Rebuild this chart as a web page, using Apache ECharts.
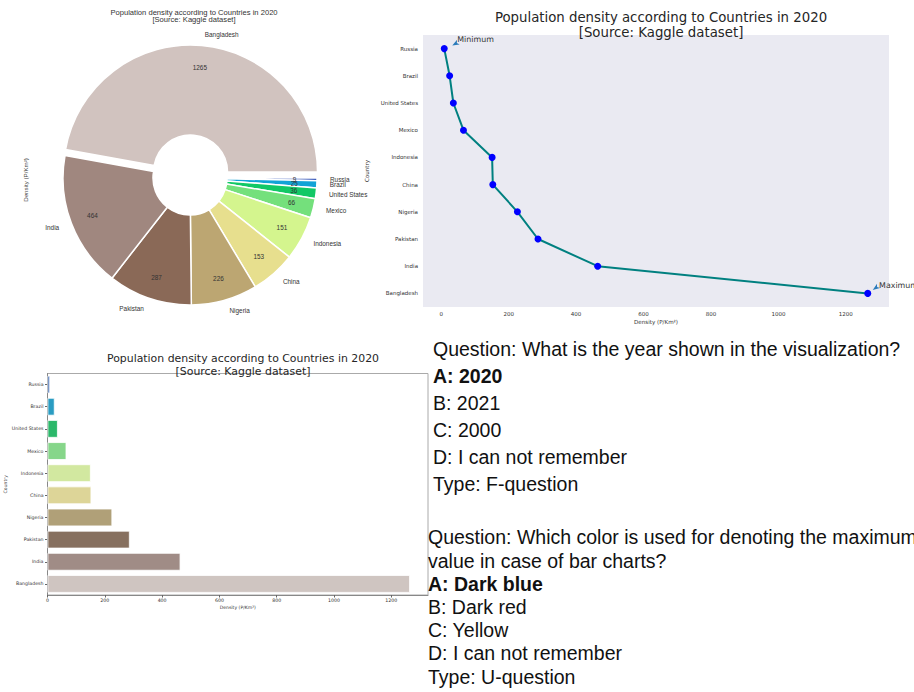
<!DOCTYPE html>
<html>
<head>
<meta charset="utf-8">
<script src="https://cdn.jsdelivr.net/npm/echarts@6/dist/echarts.min.js"></script>
<style>
  html, body { margin: 0; padding: 0; background: #fff; }
  #main { width: 914px; height: 692px; }
</style>
</head>
<body>
<div id="main"></div>
<script>
  // countries, ordered from lowest to highest density
  var countries = ['Russia', 'Brazil', 'United States', 'Mexico', 'Indonesia', 'China', 'Nigeria', 'Pakistan', 'India', 'Bangladesh'];
  var density = [9, 25, 36, 66, 151, 153, 226, 287, 464, 1265];

  var pieColors = ['#3152b8', '#12a3d6', '#12c866', '#74e07c', '#d4f58e', '#e7df8e', '#bca672', '#8a6957', '#a0877f', '#d1c3bf'];
  var barColors = ['#3a66b0', '#2a9cc2', '#2bb86a', '#86d68a', '#d2e8a0', '#ddd598', '#b0a078', '#87705f', '#a08c86', '#cfc5c1'];

  var titleText = 'Population density according to Countries in 2020\n[Source: Kaggle dataset]';
  var xName = 'Density (P/Km²)';

  // question panel text
  var question1 = ['Question: What is the year shown in the visualization?', 'A: 2020', 'B: 2021', 'C: 2000', 'D: I can not remember', 'Type: F-question'];
  var question2 = ['Question: Which color is used for denoting the maximum', 'value in case of bar charts?', 'A: Dark blue', 'B: Dark red', 'C: Yellow', 'D: I can not remember', 'Type: U-question'];
  var q1Y = [349, 376, 403, 430, 457, 484];
  var q2Y = [537, 561, 584, 607, 630, 653, 677];
  var q1Bold = [false, true, false, false, false, false];
  var q2Bold = [false, false, true, false, false, false, false];

  var myChart = echarts.init(document.getElementById('main'), null, {renderer: 'svg'});

  var dejavu = 'DejaVu Sans';
  var arial = 'Liberation Sans';

  function plain(v) {
    return String(v);
  }

  function qText(list, ys, bolds, x) {
    return list.map(function (t, i) {
      return {
        type: 'text',
        style: {
          text: t, x: x, y: ys[i],
          font: (bolds[i] ? 'bold ' : '') + '19.5px "Liberation Sans"',
          fill: '#111',
          textVerticalAlign: 'middle', verticalAlign: 'middle'
        }
      };
    });
  }

  var graphics = qText(question1, q1Y, q1Bold, 433).concat(qText(question2, q2Y, q2Bold, 428));
  // pie y label
  graphics.push({
    type: 'text',
    x: 25, y: 180,
    rotation: Math.PI / 2,
    style: {
      text: xName, font: '6.2px "Liberation Sans"', fill: '#444',
      textAlign: 'center', align: 'center', textVerticalAlign: 'middle', verticalAlign: 'middle'
    }
  });

  var pieData = countries.map(function (c, i) {
    return {name: c, value: density[i], selected: c === 'Bangladesh', itemStyle: {color: pieColors[i]}};
  });

  myChart.setOption({
    animation: false,
    title: [
      {
        text: titleText, left: 189, top: 3.5, textAlign: 'center',
        textStyle: {fontSize: 7.6, fontFamily: arial, fontWeight: 'normal', color: '#333', lineHeight: 7.6}
      },
      {
        text: titleText, left: 656, top: 4.5, textAlign: 'center',
        textStyle: {fontSize: 13.3, fontFamily: dejavu, fontWeight: 'normal', color: '#262626', lineHeight: 15}
      },
      {
        text: titleText, left: 238, top: 347.5, textAlign: 'center',
        textStyle: {fontSize: 10.9, fontFamily: dejavu, fontWeight: 'normal', color: '#262626', lineHeight: 12.7}
      }
    ],
    graphic: graphics,
    grid: [
      {left: 423, top: 35, width: 466, height: 272, show: true, backgroundColor: '#eaeaf2', borderWidth: 0},
      {left: 47.5, top: 373.5, width: 380.5, height: 221.5, show: true, backgroundColor: 'transparent', borderColor: '#aaa', borderWidth: 1}
    ],
    xAxis: [
      {
        gridIndex: 0, type: 'value', min: -54, max: 1328, splitNumber: 7,
        axisLine: {show: false}, axisTick: {show: false}, splitLine: {show: false},
        axisLabel: {fontSize: 5.5, fontFamily: dejavu, color: '#333', margin: 4, showMinLabel: false, showMaxLabel: false, formatter: plain},
        name: xName, nameLocation: 'middle', nameGap: 12,
        nameTextStyle: {fontSize: 5.6, fontFamily: dejavu, color: '#333'}
      },
      {
        gridIndex: 1, type: 'value', min: 0, max: 1328, interval: 200,
        axisLine: {show: true, lineStyle: {color: '#888', width: 1}},
        axisTick: {show: true, length: 2.5, lineStyle: {color: '#666'}},
        splitLine: {show: false},
        axisLabel: {fontSize: 4.7, fontFamily: dejavu, color: '#333', margin: 3, showMaxLabel: false, formatter: plain},
        name: xName, nameLocation: 'middle', nameGap: 10,
        nameTextStyle: {fontSize: 4.6, fontFamily: dejavu, color: '#333'}
      }
    ],
    yAxis: [
      {
        gridIndex: 0, type: 'category', data: countries, inverse: true, boundaryGap: true,
        axisLine: {show: false}, axisTick: {show: false}, splitLine: {show: false},
        axisLabel: {fontSize: 5.5, fontFamily: dejavu, color: '#333', margin: 5},
        name: 'Country', nameLocation: 'middle', nameGap: 47, nameRotate: 90,
        nameTextStyle: {fontSize: 5.6, fontFamily: dejavu, color: '#333'}
      },
      {
        gridIndex: 1, type: 'category', data: countries, inverse: true, boundaryGap: true,
        axisLine: {show: true, lineStyle: {color: '#888', width: 1}},
        axisTick: {show: true, length: 2.5, alignWithLabel: true, lineStyle: {color: '#666'}},
        splitLine: {show: false},
        axisLabel: {fontSize: 4.7, fontFamily: dejavu, color: '#333', margin: 4},
        name: 'Country', nameLocation: 'middle', nameGap: 38, nameRotate: 90,
        nameTextStyle: {fontSize: 4.6, fontFamily: dejavu, color: '#333'}
      }
    ],
    series: [
      {
        // donut with country names
        type: 'pie', center: [190, 178], radius: [37, 127],
        startAngle: 0, clockwise: true, avoidLabelOverlap: false, minShowLabelAngle: 0,
        selectedMode: 'single', selectedOffset: 6, silent: true,
        data: pieData,
        itemStyle: {borderColor: '#fff', borderWidth: 1.5},
        label: {show: true, position: 'outside', formatter: '{b}', fontSize: 6.4, fontFamily: arial, color: '#333', distanceToLabelLine: 2},
        labelLine: {show: false, length: 11, length2: 0},
        labelLayout: {hideOverlap: false}
      },
      {
        // transparent copy only for the value labels
        type: 'pie', center: [190, 178], radius: [76, 127],
        startAngle: 0, clockwise: true, avoidLabelOverlap: false, minShowLabelAngle: 0,
        selectedMode: 'single', selectedOffset: 6, silent: true,
        data: countries.map(function (c, i) {
          return {name: c, value: density[i], selected: c === 'Bangladesh'};
        }),
        itemStyle: {color: 'transparent', borderWidth: 0},
        label: {show: true, position: 'inside', formatter: '{c}', fontSize: 6.4, fontFamily: arial, color: '#333'},
        labelLine: {show: false},
        labelLayout: {hideOverlap: false}
      },
      {
        type: 'line', xAxisIndex: 0, yAxisIndex: 0,
        data: density,
        symbol: 'circle', symbolSize: 7,
        itemStyle: {color: '#0000ff'},
        lineStyle: {color: '#008080', width: 2},
        markPoint: {
          silent: true,
          data: [
            {coord: [density[0], countries[0]], symbol: 'arrow', symbolSize: [4, 7], symbolRotate: 119, symbolOffset: [8, -3], itemStyle: {color: '#2b7bba'}, label: {show: false}},
            {coord: [density[9], countries[9]], symbol: 'arrow', symbolSize: [4, 7], symbolRotate: 125, symbolOffset: [5, -3.5], itemStyle: {color: '#2b7bba'}, label: {show: false}},
            {coord: [density[0], countries[0]], symbol: 'circle', symbolSize: 0.1, itemStyle: {color: 'transparent'},
              label: {show: true, formatter: 'Minimum', position: 'right', distance: 0, offset: [13, -8.7], fontSize: 7.9, fontFamily: dejavu, color: '#333'}},
            {coord: [density[9], countries[9]], symbol: 'circle', symbolSize: 0.1, itemStyle: {color: 'transparent'},
              label: {show: true, formatter: 'Maximum', position: 'right', distance: 0, offset: [11.3, -8.3], fontSize: 7.9, fontFamily: dejavu, color: '#333'}}
          ]
        }
      },
      {
        type: 'bar', xAxisIndex: 1, yAxisIndex: 1,
        data: density,
        barCategoryGap: '20%',
        itemStyle: {
          color: function (p) { return barColors[p.dataIndex]; },
          borderColor: '#fff', borderWidth: 0.8
        }
      }
    ]
  });
</script>
</body>
</html>
